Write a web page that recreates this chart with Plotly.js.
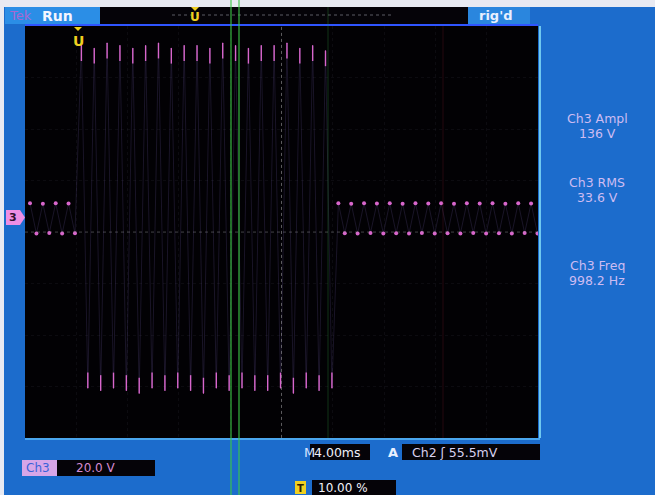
<!DOCTYPE html>
<html>
<head>
<meta charset="utf-8">
<script src="https://cdn.plot.ly/plotly-3.0.1.min.js"></script>
<style>html,body{margin:0;padding:0;background:#1c6ccc;}#chart{width:655px;height:495px;}</style>
</head>
<body>
<div id="chart"></div>
<script>
const timePerDiv_ms = 4.00;
const voltsPerDiv = 20.0;
const freq_Hz = 998.2;
const firstPeak_ms = 0.39;
// positive peak of each cycle (V)
const posPeak_V = [5.8, 5.6, 5.8, 5.7,
  67, 66, 68, 67, 66, 67, 68, 66, 67, 67, 66, 68, 67, 66, 67, 67, 68, 66, 67, 65,
  5.8, 5.6, 5.8, 5.7, 5.8, 5.6, 5.8, 5.7, 5.8, 5.6, 5.8, 5.7, 5.8, 5.6, 5.8, 5.7];
// negative peak of each cycle (V)
const negPeak_V = [-6.0, -5.8, -6.0, -5.9,
  -66, -67, -66, -67, -68, -66, -67, -66, -67, -68, -66, -67, -66, -67, -67, -66, -68, -66, -67, -66,
  -5.9, -6.0, -5.8, -6.0, -5.9, -6.0, -5.8, -6.0, -5.9, -6.0, -5.8, -6.0, -5.9, -6.0, -5.8, -6.0];
const burstCycles = [4, 23];
const measLabels = ['Ch3 Ampl', 'Ch3 RMS', 'Ch3 Freq'];
const measValues = ['136 V', '33.6 V', '998.2 Hz'];
const trigLevelText = 'Ch2 \u0283 55.5mV';
const timebaseText = '4.00ms';
const ch3ScaleText = '20.0 V';
const trigPosText = '10.00 %';

// ---- build traces ----
const period_ms = 1000 / freq_Hz;
const zx = [], zy = [];
const bPx = [], bPy = [], bNx = [], bNy = [];
const sPx = [], sPy = [], sNx = [], sNy = [];
posPeak_V.forEach((v, k) => {
  const tp = firstPeak_ms + k * period_ms;
  const tn = tp + period_ms / 2;
  zx.push(tp, tn); zy.push(v, negPeak_V[k]);
  if (k >= burstCycles[0] && k <= burstCycles[1]) {
    bPx.push(tp); bPy.push(v); bNx.push(tn); bNy.push(negPeak_V[k]);
  } else {
    sPx.push(tp); sPy.push(v); sNx.push(tn); sNy.push(negPeak_V[k]);
  }
});
const pink = '#d866cc';
const traces = [
  {x: zx, y: zy, mode: 'lines', line: {color: 'rgba(120,100,180,0.2)', width: 1}, hoverinfo: 'skip'},
  {x: bPx, y: bPy, mode: 'markers', marker: {size: 1, color: pink},
   error_y: {type: 'constant', symmetric: false, value: 0, valueminus: 6, width: 0, thickness: 1.4, color: pink}},
  {x: bNx, y: bNy, mode: 'markers', marker: {size: 1, color: pink},
   error_y: {type: 'constant', symmetric: false, value: 6, valueminus: 0, width: 0, thickness: 1.4, color: pink}},
  {x: sPx.concat(sNx), y: sPy.concat(sNy), mode: 'markers', marker: {size: 4, color: pink}}
];

// ---- layout helpers (pixel -> paper) ----
const L = 25, R = 538, T = 26, B = 438;
const px = x => (x - L) / (R - L);
const py = y => (B - y) / (B - T);
function rect(x0, y0, x1, y1, fill) {
  return {type: 'rect', xref: 'paper', yref: 'paper', x0: px(x0), x1: px(x1), y0: py(y1), y1: py(y0),
    fillcolor: fill, line: {width: 0}, layer: 'below'};
}
function vline(x, y0, y1, color, w, dash, layer) {
  return {type: 'line', xref: 'paper', yref: 'paper', x0: px(x), x1: px(x), y0: py(y1), y1: py(y0),
    line: {color: color, width: w, dash: dash || 'solid'}, layer: layer || 'above'};
}
function hline(y, x0, x1, color, w, dash) {
  return {type: 'line', xref: 'paper', yref: 'paper', x0: px(x0), x1: px(x1), y0: py(y), y1: py(y),
    line: {color: color, width: w, dash: dash || 'solid'}};
}
function txt(x, y, text, color, size, opts) {
  return Object.assign({xref: 'paper', yref: 'paper', x: px(x), y: py(y), text: text, showarrow: false,
    xanchor: 'left', yanchor: 'middle', font: {family: 'DejaVu Sans', size: size, color: color}}, opts || {});
}

const yMin = -85.4, yMax = yMin + 8 * voltsPerDiv;
const shapes = [
  rect(0, 0, 655, 7, '#e8eaf2'),
  rect(0, 0, 4, 495, '#e8eaf2'),
  rect(5, 7, 100, 24, '#2b8ee6'),
  rect(100, 7, 468, 24, '#050308'),
  rect(468, 7, 530, 24, '#2a86de'),
  hline(15, 172, 393, 'rgba(150,150,165,0.6)', 1, 'dot'),
  hline(25, 25, 538, '#2f55ff', 2),
  vline(540, 26, 438, '#6fc8f0', 2),
  hline(439, 25, 540, '#4aa6ee', 2),
  // center graticule
  {type: 'line', xref: 'x', yref: 'paper', x0: 5 * timePerDiv_ms, x1: 5 * timePerDiv_ms, y0: 0, y1: 1,
   line: {color: 'rgba(170,170,170,0.5)', width: 1, dash: 'dot'}},
  {type: 'line', xref: 'paper', yref: 'y', x0: 0, x1: 1, y0: yMin + 4 * voltsPerDiv, y1: yMin + 4 * voltsPerDiv,
   line: {color: 'rgba(170,170,170,0.35)', width: 1, dash: 'dot'}},
  // cursors
  vline(231, 0, 495, 'rgba(60,200,70,0.85)', 1.3),
  vline(239, 0, 495, 'rgba(60,200,70,0.85)', 1.3),
  vline(328, 7, 438, 'rgba(50,150,60,0.35)', 1),
  vline(443, 26, 438, 'rgba(120,30,40,0.3)', 1),
  // bottom readout boxes
  rect(310, 444, 370, 460, '#050308'),
  rect(402, 444, 540, 460, '#050308'),
  rect(22, 460, 57, 476, '#d7a6e8'),
  rect(57, 460, 155, 476, '#050308'),
  rect(312, 480, 396, 495, '#050308'),
  rect(295, 481, 306, 494, '#f0d020'),
  // ch3 ground marker
  rect(6, 210, 20, 225, '#ee8ee4'),
  {type: 'path', xref: 'paper', yref: 'paper',
   path: `M ${px(20)} ${py(210)} L ${px(25)} ${py(217.5)} L ${px(20)} ${py(225)} Z`,
   fillcolor: '#ee8ee4', line: {width: 0}},
  // trigger position markers
  {type: 'path', xref: 'paper', yref: 'paper',
   path: `M ${px(74)} ${py(27)} L ${px(82)} ${py(27)} L ${px(78)} ${py(31)} Z`, fillcolor: '#f0d020', line: {width: 0}},
  {type: 'path', xref: 'paper', yref: 'paper',
   path: `M ${px(191)} ${py(7)} L ${px(199)} ${py(7)} L ${px(195)} ${py(11)} Z`, fillcolor: '#f0d020', line: {width: 0}}
];

const annotations = [
  txt(7, 15.5, 'Tek', '#a868d0', 13),
  txt(40, 15.5, 'Run', '#f4f6ff', 14, {font: {family: 'DejaVu Sans', size: 14, color: '#f4f6ff', weight: 'bold'}}),
  txt(477, 15.5, "rig'd", '#e8f0ff', 13, {font: {family: 'DejaVu Sans', size: 13, color: '#e8f0ff', weight: 'bold'}}),
  txt(195, 17, 'U', '#f0d020', 12, {xanchor: 'center', font: {family: 'DejaVu Sans', size: 12, color: '#f0d020', weight: 'bold'}}),
  txt(78, 41, 'U', '#f0d020', 14, {xanchor: 'center', font: {family: 'DejaVu Sans', size: 14, color: '#f0d020', weight: 'bold'}}),
  txt(13, 217.5, '3', '#301030', 11, {xanchor: 'center', font: {family: 'DejaVu Sans', size: 11, color: '#301030', weight: 'bold'}}),
  txt(300.5, 488, 'T', '#302000', 10, {xanchor: 'center', font: {family: 'DejaVu Sans', size: 10, color: '#302000', weight: 'bold'}}),
  txt(302, 452, 'M', '#d8e4ff', 13),
  txt(312, 452, timebaseText, '#f0f0f8', 12.5),
  txt(386, 452, 'A', '#e8f0ff', 13, {font: {family: 'DejaVu Sans', size: 13, color: '#e8f0ff', weight: 'bold'}}),
  txt(410, 452, trigLevelText, '#d8d0ee', 12.5),
  txt(24, 468, 'Ch3', '#3a62d8', 12),
  txt(74, 468, ch3ScaleText, '#d68ad0', 12),
  txt(316, 488, trigPosText, '#f0f0f8', 12)
];
const measY = [[118, 133], [182, 197], [265, 280]];
measLabels.forEach((lab, i) => {
  annotations.push(txt(597, measY[i][0], lab, '#cdbcf2', 12.5, {xanchor: 'center'}));
  annotations.push(txt(597, measY[i][1], measValues[i], '#cdbcf2', 12.5, {xanchor: 'center'}));
});

const layout = {
  width: 655, height: 495,
  margin: {l: L, r: 655 - R, t: T, b: 495 - B, pad: 0},
  paper_bgcolor: '#1c6ccc',
  plot_bgcolor: '#020104',
  showlegend: false,
  xaxis: {range: [0, 10 * timePerDiv_ms], tick0: 0, dtick: timePerDiv_ms, showticklabels: false,
    showgrid: true, gridcolor: 'rgba(60,60,70,0.18)', griddash: 'dot', zeroline: false, showline: false, fixedrange: true},
  yaxis: {range: [yMin, yMax], tick0: yMin, dtick: voltsPerDiv, showticklabels: false,
    showgrid: true, gridcolor: 'rgba(60,60,70,0.18)', griddash: 'dot', zeroline: false, showline: false, fixedrange: true},
  shapes: shapes,
  annotations: annotations
};
Plotly.newPlot('chart', traces, layout, {staticPlot: true, displayModeBar: false});
</script>
</body>
</html>
